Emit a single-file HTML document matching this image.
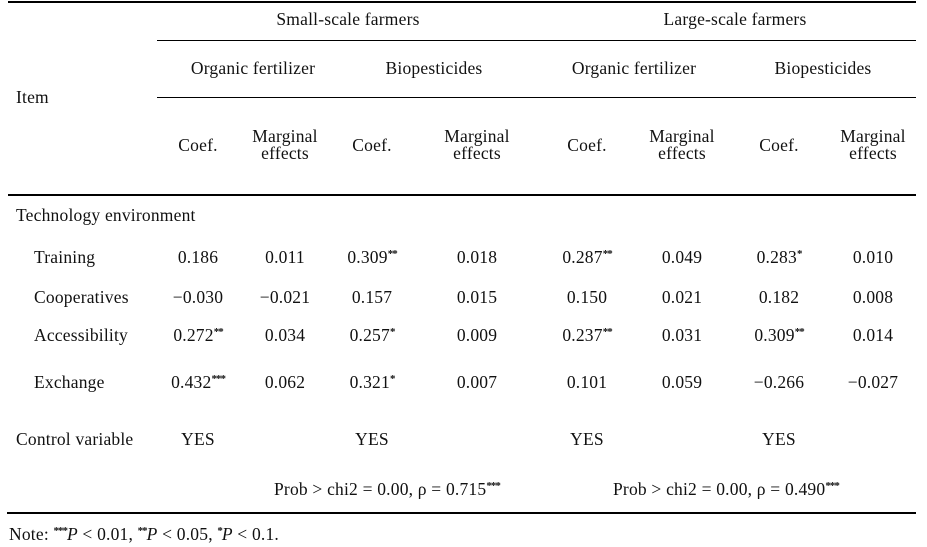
<!DOCTYPE html>
<html><head><meta charset="utf-8"><style>
body{margin:0;width:927px;height:547px;background:#fff;position:relative;overflow:hidden;font-family:"Liberation Serif",serif;font-size:17.5px;letter-spacing:0.2px;color:#111}
.t{position:absolute;white-space:nowrap;line-height:18px}
.c{position:absolute;width:120px;text-align:center;white-space:nowrap;line-height:17px}
.l{position:absolute;height:1px;background:#000}
sup{font-size:11px;font-weight:bold;vertical-align:6px;line-height:0;letter-spacing:-1px}
</style></head><body>
<div class="l" style="left:8px;width:908px;top:1px;height:1.5px"></div>
<div class="l" style="left:157px;width:759px;top:40px"></div>
<div class="l" style="left:157px;width:759px;top:97px"></div>
<div class="l" style="left:8px;width:908px;top:194px;height:1.5px"></div>
<div class="l" style="left:7px;width:909px;top:512px;height:1.5px"></div>

<div class="c" style="left:268px;top:11px;width:160px">Small-scale farmers</div>
<div class="c" style="left:655px;top:11px;width:160px">Large-scale farmers</div>
<div class="c" style="left:173px;top:60px;width:160px">Organic fertilizer</div>
<div class="c" style="left:364px;top:60px;width:140px">Biopesticides</div>
<div class="c" style="left:554px;top:60px;width:160px">Organic fertilizer</div>
<div class="c" style="left:753px;top:60px;width:140px">Biopesticides</div>
<div class="t" style="left:16px;top:88px">Item</div>

<div class="c" style="left:138px;top:137px">Coef.</div>
<div class="c" style="left:225px;top:128px">Marginal<br>effects</div>
<div class="c" style="left:312px;top:137px">Coef.</div>
<div class="c" style="left:417px;top:128px">Marginal<br>effects</div>
<div class="c" style="left:527px;top:137px">Coef.</div>
<div class="c" style="left:622px;top:128px">Marginal<br>effects</div>
<div class="c" style="left:719px;top:137px">Coef.</div>
<div class="c" style="left:813px;top:128px">Marginal<br>effects</div>

<div class="t" style="left:16px;top:206px">Technology environment</div>

<div class="t" style="left:34px;top:248px">Training</div>
<div class="c" style="left:138px;top:249px">0.186</div>
<div class="c" style="left:225px;top:249px">0.011</div>
<div class="c" style="left:312px;top:249px">0.309<sup>**</sup></div>
<div class="c" style="left:417px;top:249px">0.018</div>
<div class="c" style="left:527px;top:249px">0.287<sup>**</sup></div>
<div class="c" style="left:622px;top:249px">0.049</div>
<div class="c" style="left:719px;top:249px">0.283<sup>*</sup></div>
<div class="c" style="left:813px;top:249px">0.010</div>

<div class="t" style="left:34px;top:288px">Cooperatives</div>
<div class="c" style="left:138px;top:289px">−0.030</div>
<div class="c" style="left:225px;top:289px">−0.021</div>
<div class="c" style="left:312px;top:289px">0.157</div>
<div class="c" style="left:417px;top:289px">0.015</div>
<div class="c" style="left:527px;top:289px">0.150</div>
<div class="c" style="left:622px;top:289px">0.021</div>
<div class="c" style="left:719px;top:289px">0.182</div>
<div class="c" style="left:813px;top:289px">0.008</div>

<div class="t" style="left:34px;top:326px">Accessibility</div>
<div class="c" style="left:138px;top:327px">0.272<sup>**</sup></div>
<div class="c" style="left:225px;top:327px">0.034</div>
<div class="c" style="left:312px;top:327px">0.257<sup>*</sup></div>
<div class="c" style="left:417px;top:327px">0.009</div>
<div class="c" style="left:527px;top:327px">0.237<sup>**</sup></div>
<div class="c" style="left:622px;top:327px">0.031</div>
<div class="c" style="left:719px;top:327px">0.309<sup>**</sup></div>
<div class="c" style="left:813px;top:327px">0.014</div>

<div class="t" style="left:34px;top:373px">Exchange</div>
<div class="c" style="left:138px;top:374px">0.432<sup>***</sup></div>
<div class="c" style="left:225px;top:374px">0.062</div>
<div class="c" style="left:312px;top:374px">0.321<sup>*</sup></div>
<div class="c" style="left:417px;top:374px">0.007</div>
<div class="c" style="left:527px;top:374px">0.101</div>
<div class="c" style="left:622px;top:374px">0.059</div>
<div class="c" style="left:719px;top:374px">−0.266</div>
<div class="c" style="left:813px;top:374px">−0.027</div>

<div class="t" style="left:16px;top:430px">Control variable</div>
<div class="c" style="left:138px;top:431px">YES</div>
<div class="c" style="left:312px;top:431px">YES</div>
<div class="c" style="left:527px;top:431px">YES</div>
<div class="c" style="left:719px;top:431px">YES</div>

<div class="t" style="left:274px;top:480px">Prob &gt; chi2 = 0.00, ρ = 0.715<sup>***</sup></div>
<div class="t" style="left:613px;top:480px">Prob &gt; chi2 = 0.00, ρ = 0.490<sup>***</sup></div>

<div class="t" style="left:9px;top:525px">Note: <sup>***</sup><i>P</i> &lt; 0.01, <sup>**</sup><i>P</i> &lt; 0.05, <sup>*</sup><i>P</i> &lt; 0.1.</div>
</body></html>
